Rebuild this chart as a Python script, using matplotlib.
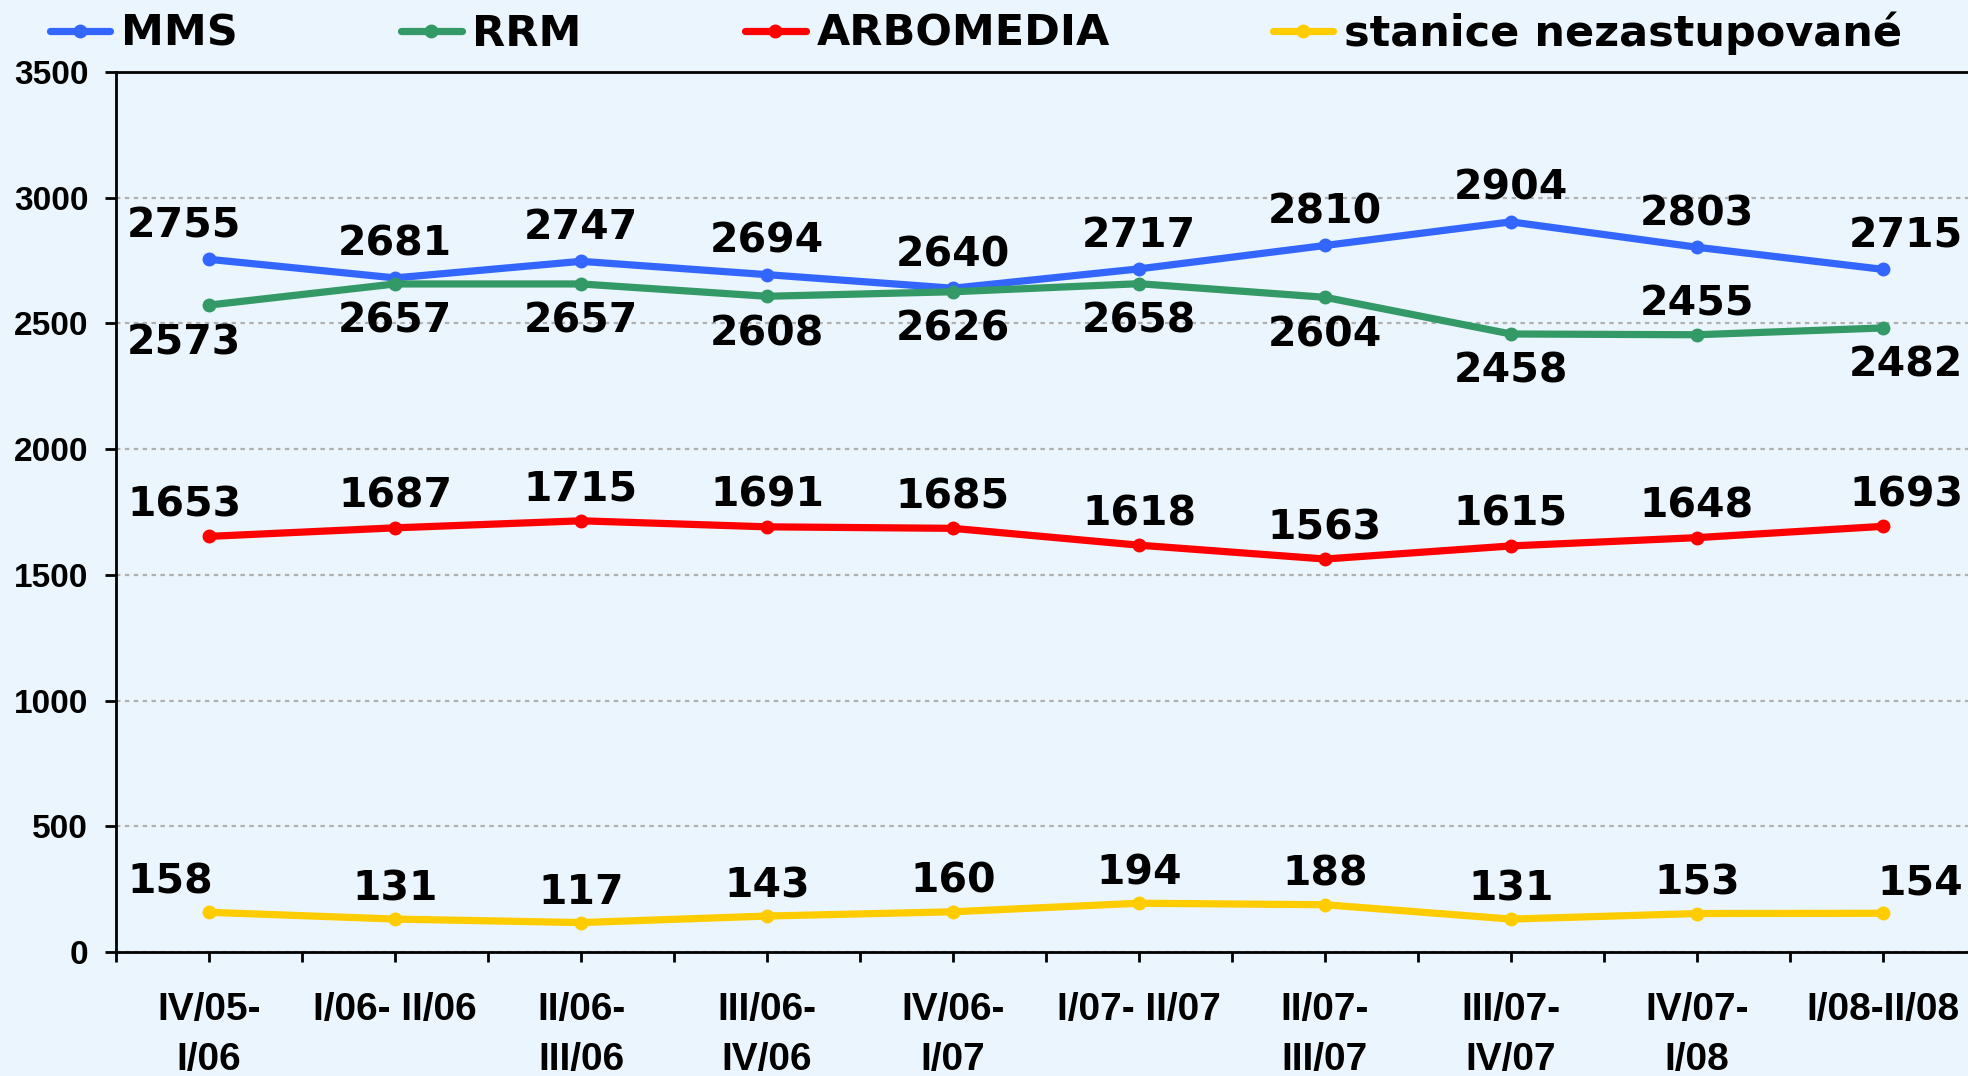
import matplotlib
matplotlib.use("Agg")
from matplotlib import pyplot as plt
import numpy as np

periods = ["IV/05-\nI/06", "I/06- II/06", "II/06-\nIII/06", "III/06-\nIV/06",
           "IV/06-\nI/07", "I/07- II/07", "II/07-\nIII/07", "III/07-\nIV/07",
           "IV/07-\nI/08", "I/08-II/08"]
mms = [2755, 2681, 2747, 2694, 2640, 2717, 2810, 2904, 2803, 2715]
rrm = [2573, 2657, 2657, 2608, 2626, 2658, 2604, 2458, 2455, 2482]
arbomedia = [1653, 1687, 1715, 1691, 1685, 1618, 1563, 1615, 1648, 1693]
nezastupovane = [158, 131, 117, 143, 160, 194, 188, 131, 153, 154]
series_names = ["MMS", "RRM", "ARBOMEDIA", "stanice nezastupované"]

colors = ["#3366ff", "#339966", "#ff0000", "#ffcc00"]
# label offset in pixels (positive = above the point)
label_dy = [[33] * 10, [-38] * 8 + [30, -38], [31] * 10, [30] * 10]

bg = "#ebf5fd"
fig = plt.figure(figsize=(19.68, 10.76), dpi=100, facecolor=bg)
ax = fig.add_axes([116 / 1968, 124 / 1076, 1860 / 1968, 880 / 1076])
ax.set_facecolor(bg)

x = np.arange(len(periods))
all_series = [mms, rrm, arbomedia, nezastupovane]
for vals, name, col, dys in zip(all_series, series_names, colors, label_dy):
    ax.plot(x, vals, color=col, lw=5.2, marker="o", ms=9, label=name,
            solid_capstyle="round", zorder=3)
    for i, v in enumerate(vals):
        dx, ha = 0, "center"
        if i == 0:
            dx, ha = -82, "left"
        elif i == len(vals) - 1:
            dx, ha = 80, "right"
        ax.annotate(str(v), (x[i], v), xytext=(dx, dys[i]), textcoords="offset pixels",
                    ha=ha, va="center", fontsize=29.5, fontweight="bold",
                    family="DejaVu Sans", zorder=4)

ax.set_xlim(-0.5, 9.5)
ax.set_ylim(0, 3500)
ax.set_yticks(np.arange(0, 3501, 500))
ax.set_xticks(x)
ax.set_xticks(np.arange(-0.5, 10, 1.0), minor=True)
ax.set_xticklabels(periods, family="Liberation Sans", fontweight="bold",
                   fontsize=28, linespacing=1.5)
for lab in ax.get_yticklabels():
    lab.set_family("Liberation Sans")
    lab.set_fontweight("bold")
    lab.set_fontsize(24)

ax.tick_params(axis="x", which="both", direction="out", length=7, width=2, pad=22)
ax.tick_params(axis="y", direction="out", length=8, width=2, pad=12)
ax.yaxis.grid(True, color="#b0b0b0", linestyle=(0, (2, 2)), lw=1.6)
ax.set_axisbelow(True)
for s in ["left", "bottom", "top"]:
    ax.spines[s].set_linewidth(2)
    ax.spines[s].set_color("black")
ax.spines["right"].set_visible(False)

fig.legend(loc="center", bbox_to_anchor=(0.496, 1 - 33 / 1076), ncol=4,
           frameon=False, prop={"family": "DejaVu Sans", "weight": "bold", "size": 31},
           handlelength=1.4, handletextpad=0.25, columnspacing=3.8, borderpad=0,
           markerscale=1.0)

fig.savefig("out.png", dpi=100, facecolor=bg)
